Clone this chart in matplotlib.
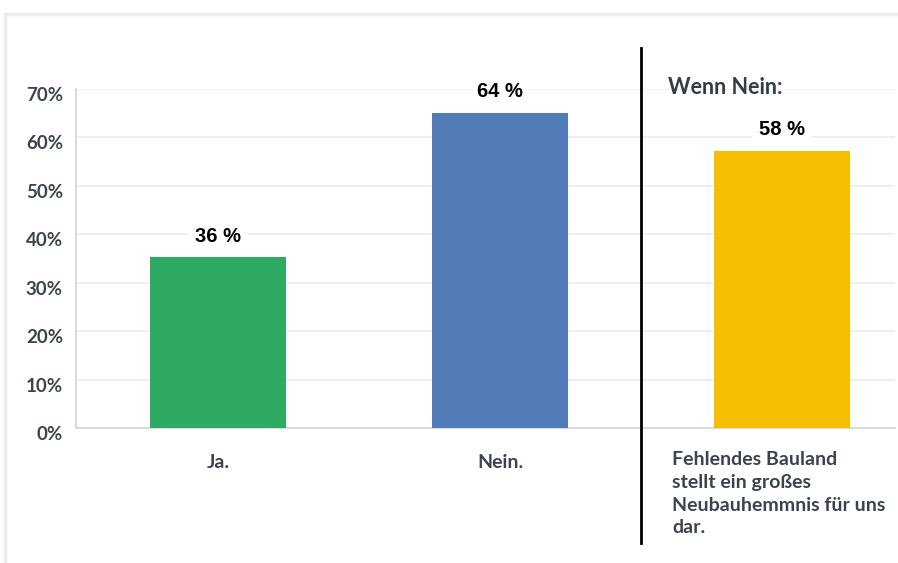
import matplotlib
matplotlib.use("Agg")
import matplotlib.pyplot as plt
from matplotlib.patches import Rectangle

# data
categories = ["Ja.", "Nein.", "Fehlendes Bauland\nstellt ein großes\nNeubauhemmnis für uns\ndar."]
values = [35.2, 65.0, 57.2]
value_labels = ["36 %", "64 %", "58 %"]
colors = ["#2eaa62", "#517cb8", "#f6be00"]
yticks = [0, 10, 20, 30, 40, 50, 60, 70]
ytick_labels = ["0%", "10%", "20%", "30%", "40%", "50%", "60%", "70%"]

W, H = 898, 563
fig = plt.figure(figsize=(W / 100, H / 100), dpi=100)
fig.patch.set_facecolor("white")

# card with faint shadow on top/left
fig.patches.append(Rectangle((5 / W, -0.05), 1.1, 1 - 14 / H + 0.05, transform=fig.transFigure,
                             facecolor="white", edgecolor="#ededed", lw=2.5, zorder=0))

left, right, bottom, top = 76, 895, 428, 88.5
ax = fig.add_axes([left / W, (H - bottom) / H, (right - left) / W, (bottom - top) / H])
ax.set_facecolor("none")
ax.set_zorder(2)

x = list(range(len(values)))
ax.bar(x, values, width=0.482, color=colors, zorder=3)

ax.set_xlim(-0.5035, 2.40)
ax.set_ylim(0, 70)
ax.set_yticks(yticks)
ax.set_yticklabels([])
ax.tick_params(axis="y", length=0)
ax.set_xticks([])

# y tick labels sit slightly below their gridlines
for t, lab in zip(yticks, ytick_labels):
    ax.text(-0.55, t - 1.4, lab, ha="right", va="center", fontsize=13.5,
            fontweight="bold", family="Lato", color="#3b4350", clip_on=False)

ax.yaxis.grid(True, color="#ececec", lw=1.2, zorder=0)
for s in ["top", "right"]:
    ax.spines[s].set_visible(False)
for s in ["left", "bottom"]:
    ax.spines[s].set_color("#d4d4d4")
    ax.spines[s].set_linewidth(1.2)

# value labels with white background
for xi, v, lab in zip(x, values, value_labels):
    ax.text(xi, v + 2.4, lab, ha="center", va="bottom", fontsize=14.5, fontweight="bold",
            family="Liberation Sans", color="black", zorder=4,
            bbox=dict(facecolor="white", edgecolor="none", pad=5))

# category labels
for xi, cat in zip(x[:2], categories[:2]):
    ax.text(xi, -5.3, cat, ha="center", va="top", fontsize=14, fontweight="bold",
            family="Lato", color="#3b4350")
ax.text(1.61, -4.7, categories[2], ha="left", va="top", fontsize=14, fontweight="bold",
        family="Lato", color="#3b4350", linespacing=1.42)

ax.text(1.595, 70.3, "Wenn Nein:", ha="left", va="center", fontsize=15.5, fontweight="bold",
        family="Lato", color="#333c48")

# divider
ax.plot([1.5, 1.5], [-23.7, 78.4], color="black", lw=2, clip_on=False, zorder=5)

fig.savefig("out.png", dpi=100)
